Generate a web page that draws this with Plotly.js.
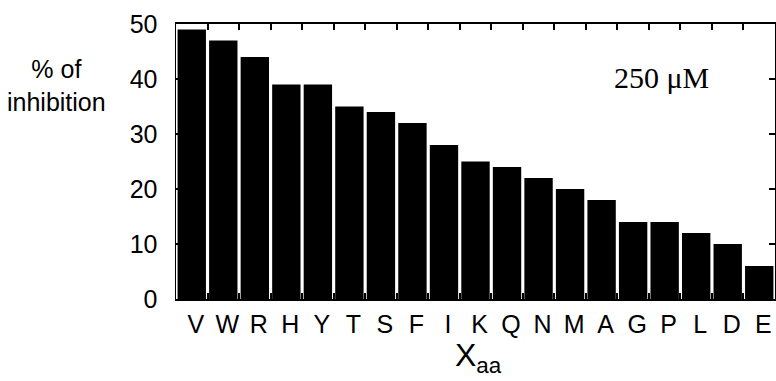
<!DOCTYPE html>
<html>
<head>
<meta charset="utf-8">
<script src="https://cdn.plot.ly/plotly-3.0.1.min.js"></script>
<style>html,body{margin:0;padding:0;background:#fff;}#chart{width:776px;height:381px;}</style>
</head>
<body>
<div id="chart"></div>
<script>
const aminoAcids = ["V","W","R","H","Y","T","S","F","I","K","Q","N","M","A","G","P","L","D","E"];
const inhibition = [49,47,44,39,39,35,34,32,28,25,24,22,20,18,14,14,12,10,6];
const yTicks = [0,10,20,30,40,50];

const trace = {
  type: "bar",
  x: aminoAcids,
  y: inhibition,
  marker: {color: "#000", line: {width: 0}},
  hoverinfo: "x+y"
};

const layout = {
  width: 776, height: 381,
  margin: {l: 176, r: 1, t: 24, b: 82, pad: 0},
  paper_bgcolor: "#fff", plot_bgcolor: "#fff",
  bargap: 0.1,
  showlegend: false,
  font: {family: "Liberation Sans, Arial, sans-serif", color: "#000"},
  xaxis: {
    type: "category",
    range: [-0.5, 18.5],
    showline: true, linecolor: "#000", linewidth: 2, mirror: "ticks",
    ticks: "inside", ticklen: 6, tickwidth: 2, tickcolor: "#000",
    tickson: "boundaries",
    tickangle: 0,
    tickfont: {size: 25, family: "Liberation Sans, Arial, sans-serif"},
    ticklabelshift: 4,
    ticklabelstandoff: 2,
    showgrid: false, zeroline: false,
    fixedrange: true
  },
  yaxis: {
    range: [0, 50],
    tickvals: yTicks,
    ticktext: yTicks.map(String),
    showline: true, linecolor: "#000", linewidth: 1.5, mirror: "ticks",
    ticks: "inside", ticklen: 6, tickwidth: 2, tickcolor: "#000",
    tickfont: {size: 25, family: "Liberation Sans, Arial, sans-serif"},
    ticklabelstandoff: 12,
    showgrid: false, zeroline: false,
    fixedrange: true
  },
  annotations: [
    {
      text: "% of<br>inhibition", xref: "paper", yref: "paper",
      x: -0.2, y: 0.775, xanchor: "center", yanchor: "middle",
      showarrow: false, align: "center",
      font: {size: 25, family: "Liberation Sans, Arial, sans-serif", color: "#000"}
    },
    {
      text: "250 μM", xref: "paper", yref: "paper",
      x: 0.81, y: 0.805, xanchor: "center", yanchor: "middle",
      showarrow: false,
      font: {size: 30, family: "Liberation Serif, Times New Roman, serif", color: "#000"}
    },
    {
      text: "X<sub>aa</sub>", xref: "paper", yref: "paper",
      x: 0.505, y: -0.13, xanchor: "center", yanchor: "top",
      showarrow: false,
      font: {size: 32, family: "Liberation Sans, Arial, sans-serif", color: "#000"}
    }
  ]
};

Plotly.newPlot("chart", [trace], layout, {displayModeBar: false, staticPlot: true});
</script>
</body>
</html>
